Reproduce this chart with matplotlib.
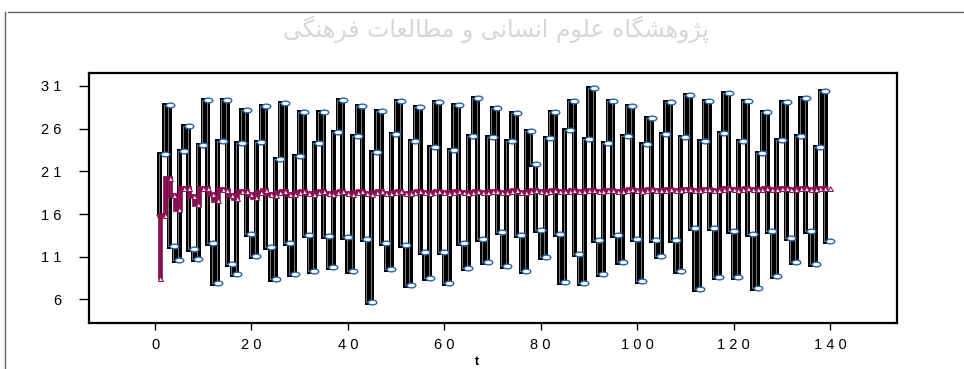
import unicodedata
import matplotlib
matplotlib.use("Agg")
import matplotlib.pyplot as plt
from matplotlib.path import Path
from matplotlib.transforms import ScaledTranslation, Affine2D
from matplotlib.lines import Line2D

# ---- data -------------------------------------------------------------
t = list(range(1, 141))

series_y = [15.9, 23.0, 28.8, 12.3, 10.6, 23.4, 26.3, 11.9, 10.7, 24.1,
            29.4, 12.6, 7.9, 24.5, 29.3, 10.2, 9.0, 24.3, 28.2, 13.7,
            11.1, 24.4, 28.7, 12.1, 8.4, 22.4, 29.0, 12.6, 9.0, 22.8,
            27.9, 13.5, 9.3, 24.3, 28.0, 13.4, 9.8, 25.6, 29.4, 13.3,
            9.3, 25.2, 28.6, 13.1, 5.7, 23.3, 28.1, 12.6, 9.6, 25.4,
            29.2, 12.4, 7.7, 24.6, 28.5, 11.5, 8.5, 23.8, 29.1, 11.5,
            7.9, 23.5, 28.8, 12.6, 9.7, 25.1, 29.6, 13.1, 10.4, 25.0,
            28.4, 13.9, 9.9, 24.5, 27.8, 13.5, 9.3, 25.7, 21.9, 14.1,
            11.0, 24.9, 27.9, 13.7, 8.1, 25.8, 29.2, 11.3, 7.9, 24.8,
            30.8, 13.0, 9.0, 24.3, 29.2, 13.5, 10.4, 25.2, 28.7, 13.1,
            8.2, 24.2, 27.3, 13.0, 11.1, 25.4, 29.1, 13.0, 9.3, 25.0,
            29.9, 14.4, 7.2, 24.5, 29.2, 14.4, 8.6, 25.5, 30.2, 14.0,
            8.6, 24.6, 29.2, 13.7, 7.3, 23.1, 28.0, 14.0, 8.7, 24.7,
            29.1, 13.2, 10.4, 25.1, 29.6, 14.0, 10.2, 23.8, 30.4, 12.8]

forecast = [8.5, 15.9, 20.2, 18.2, 16.6, 19.0, 19.0, 18.1, 17.2, 19.1,
            19.0, 18.4, 17.6, 18.9, 18.8, 18.2, 17.9, 18.7, 18.7, 18.3,
            18.0, 18.6, 18.8, 18.4, 18.2, 18.6, 18.7, 18.4, 18.3, 18.6,
            18.7, 18.5, 18.3, 18.6, 18.7, 18.5, 18.4, 18.6, 18.7, 18.5,
            18.4, 18.6, 18.7, 18.5, 18.4, 18.6, 18.7, 18.5, 18.5, 18.6,
            18.7, 18.5, 18.5, 18.6, 18.7, 18.6, 18.5, 18.6, 18.7, 18.6,
            18.5, 18.6, 18.7, 18.6, 18.5, 18.6, 18.7, 18.6, 18.6, 18.7,
            18.7, 18.6, 18.6, 18.7, 18.8, 18.6, 18.6, 18.7, 18.8, 18.7,
            18.6, 18.7, 18.8, 18.7, 18.7, 18.7, 18.8, 18.7, 18.7, 18.8,
            18.8, 18.7, 18.7, 18.8, 18.8, 18.7, 18.7, 18.8, 18.9, 18.8,
            18.7, 18.8, 18.9, 18.8, 18.8, 18.8, 18.9, 18.8, 18.8, 18.9,
            18.9, 18.8, 18.8, 18.9, 18.9, 18.8, 18.8, 18.9, 19.0, 18.9,
            18.8, 18.9, 19.0, 18.9, 18.9, 18.9, 19.0, 18.9, 18.9, 19.0,
            19.0, 18.9, 18.9, 19.0, 19.0, 18.9, 18.9, 19.0, 19.0, 19.0]

x_ticks = [0, 20, 40, 60, 80, 100, 120, 140]
x_tick_labels = ["0", "2 0", "4 0", "6 0", "8 0", "1 0 0", "1 2 0", "1 4 0"]
y_ticks = [6, 11, 16, 21, 26, 31]
y_tick_labels = ["6", "1 1", "1 6", "2 1", "2 6", "3 1"]
x_label = "t"
banner = "پژوهشگاه علوم انسانی و مطالعات فرهنگی"


def shape_arabic(text):
    """Contextual forms + right-to-left order for a renderer without shaping."""
    right_only = set("اآأإدذرزژوؤة")

    def is_letter(c):
        return "ARABIC LETTER" in unicodedata.name(c, "")

    out = []
    for i, c in enumerate(text):
        if not is_letter(c):
            out.append(c)
            continue
        prev = text[i - 1] if i > 0 else " "
        nxt = text[i + 1] if i + 1 < len(text) else " "
        joins_prev = is_letter(prev) and prev not in right_only
        joins_next = is_letter(nxt) and c not in right_only
        if joins_prev and joins_next:
            form = "MEDIAL"
        elif joins_prev:
            form = "FINAL"
        elif joins_next:
            form = "INITIAL"
        else:
            form = "ISOLATED"
        try:
            out.append(unicodedata.lookup(unicodedata.name(c) + " " + form + " FORM"))
        except KeyError:
            out.append(c)
    return "".join(reversed(out))


# ---- figure -----------------------------------------------------------
plt.rcParams["font.family"] = ["Liberation Sans", "DejaVu Sans"]
fig = plt.figure(figsize=(9.64, 3.69), dpi=100)
ax = fig.add_axes([89 / 964, 1 - 323 / 369, (897 - 89) / 964, (323 - 73) / 369])

# faint institutional banner behind everything
fig.text(0.515, 0.92, shape_arabic(banner), ha="center", va="center",
         fontsize=17, color="#d6d6d6", family=["DejaVu Sans"], zorder=0)

# outer chart frame
fig.add_artist(Line2D([8 / 964, 1.0], [1 - 12 / 369] * 2, color="#606060", lw=1.0))
fig.add_artist(Line2D([5 / 964] * 2, [0, 1 - 12 / 369], color="#606060", lw=1.0))


def px_shift(dx, dy=0.0):
    return ax.transData + ScaledTranslation(dx / 100, dy / 100, fig.dpi_scale_trans)


# elliptical marker
ell = Path.unit_circle().transformed(Affine2D().scale(1.0, 0.55))

# black 3-D style ribbon: vertical pillars joined by short treads
ax.plot(t, series_y, color="black", lw=3.6, drawstyle="steps-mid",
        solid_joinstyle="miter", solid_capstyle="butt",
        transform=px_shift(-3), zorder=2)
ax.plot(t, series_y, color="#7a7a7a", lw=0.7, drawstyle="steps-mid",
        transform=px_shift(-3.6), zorder=2.1)
ax.plot(t[1:], series_y[1:], ls="none", marker=ell, ms=6.2, mfc="white",
        mec="#2a64a8", mew=1.0, zorder=3)

# forecast ribbon
ax.plot(t, forecast, color="#8a0f50", lw=3.4, drawstyle="steps-mid",
        solid_joinstyle="miter", solid_capstyle="butt",
        transform=px_shift(-2), zorder=4)
ax.plot(t, forecast, ls="none", marker="^", ms=3.6, mfc="#f4e4ec",
        mec="#8a0f50", mew=0.7, zorder=5)

ax.set_xlim(-13.7, 153.9)
ax.set_ylim(3.24, 32.52)
ax.set_xticks(x_ticks)
ax.set_xticklabels(x_tick_labels)
ax.set_yticks(y_ticks)
ax.set_yticklabels(y_tick_labels)
ax.tick_params(axis="x", direction="out", length=5, width=1.0, pad=6,
               labelsize=10.5, colors="black")
ax.tick_params(axis="y", direction="out", length=7, width=1.0, pad=13,
               labelsize=10.5, colors="black")
for s in ax.spines.values():
    s.set_linewidth(1.6)
    s.set_color("black")

fig.text(477 / 964, 1 - 362 / 369, x_label, ha="center", va="center",
         fontsize=9, fontweight="bold")

fig.savefig("out.png", dpi=100)
